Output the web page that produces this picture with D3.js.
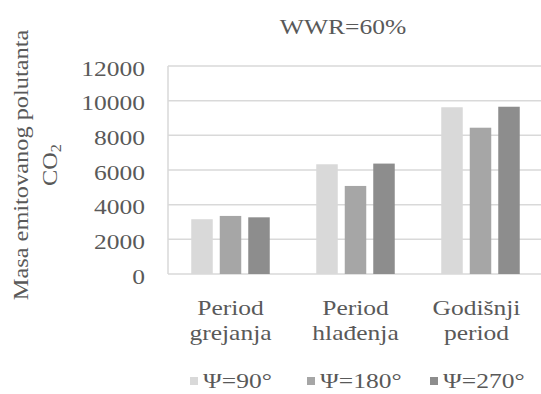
<!DOCTYPE html>
<html><head><meta charset="utf-8">
<script src="https://cdn.jsdelivr.net/npm/d3@7"></script>
<style>html,body{margin:0;padding:0;background:#fff;}svg{display:block;}</style>
</head><body>
<svg id="c" width="541" height="394"></svg>
<script>
const categories = [["Period","grejanja"],["Period","hlađenja"],["Godišnji","period"]];
const seriesNames = ["Ψ=90°","Ψ=180°","Ψ=270°"];
const values90  = [3160, 6330, 9620];
const values180 = [3350, 5080, 8440];
const values270 = [3270, 6370, 9650];
const yTicks = [0,2000,4000,6000,8000,10000,12000];
const titleText = "WWR=60%";
const colors = ["#d9d9d9","#a6a6a6","#8d8d8d"];

const series = [values90, values180, values270];
const svg = d3.select("#c");
const FONT = "'Liberation Serif'";
const TXT = "#595959";
const SX = 1.16;

function txt(g, x, y, s, size, anchor, rot){
  return g.append("text")
    .attr("transform", `translate(${x},${y})` + (rot?` rotate(${rot})`:"") + ` scale(${SX},1)`)
    .attr("font-family", FONT).attr("font-size", size).attr("fill", TXT)
    .attr("text-anchor", anchor||"start").text(s);
}

const L = 168, R = 543, T = 66, B = 274;
const x0 = d3.scaleBand().domain(d3.range(categories.length)).range([L, R]).paddingInner(0).paddingOuter(0);
const x1 = d3.scaleBand().domain(d3.range(series.length)).range([0, x0.bandwidth()]).paddingInner(0.246).paddingOuter(0.816);
const y = d3.scaleLinear().domain([0, 12000]).range([B, T]);

// gridlines
svg.append("g").selectAll("line").data(yTicks).join("line")
  .attr("x1", L).attr("x2", 541).attr("y1", d=>y(d)).attr("y2", d=>y(d))
  .attr("stroke", "#d9d9d9").attr("stroke-width", 1.5);
svg.append("line").attr("x1", L).attr("x2", L).attr("y1", T).attr("y2", B)
  .attr("stroke", "#d9d9d9").attr("stroke-width", 1.5);

// bars
categories.forEach((c, i) => {
  series.forEach((vals, j) => {
    svg.append("rect")
      .attr("x", x0(i) + x1(j)).attr("width", x1.bandwidth())
      .attr("y", y(vals[i])).attr("height", y(0) - y(vals[i]))
      .attr("fill", colors[j]);
  });
});

// y tick labels
yTicks.forEach(t => txt(svg, 145, y(t) + 9.5, String(t), 22, "end"));

// category labels
categories.forEach((c, i) => {
  const cx = x0(i) + x0.bandwidth()/2 - (i===2?4:0);
  txt(svg, cx, 315, c[0], 22, "middle");
  txt(svg, cx, 340, c[1], 22, "middle");
});

// title
txt(svg, 343, 34, titleText, 22, "middle");

// y axis label
txt(svg, 28, 165, "Masa emitovanog polutanta", 21, "middle", -90);
const co = svg.append("text")
  .attr("transform", `translate(57,165) rotate(-90) scale(${SX},1)`)
  .attr("font-family", FONT).attr("font-size", 21).attr("fill", TXT)
  .attr("text-anchor", "middle");
co.append("tspan").text("CO");
co.append("tspan").attr("font-size", 14).attr("dy", 4).text("2");

// legend
const legendX = [190, 307, 430];
seriesNames.forEach((s, j) => {
  svg.append("rect").attr("x", legendX[j]).attr("y", 377).attr("width", 8).attr("height", 8).attr("fill", colors[j]);
  txt(svg, legendX[j] + 13, 388, s, 22, "start");
});
</script>
</body></html>
